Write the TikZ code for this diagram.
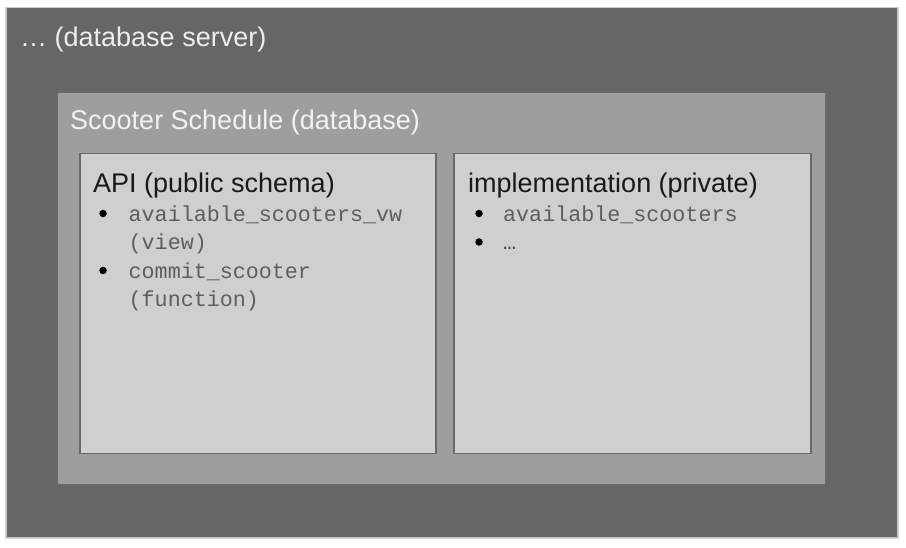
\documentclass[tikz,border=0pt]{standalone}
\usepackage{fontspec}
\setmainfont{Liberation Sans}
\setmonofont{Liberation Mono}
\usepackage{xcolor}
\usepackage{tikz}
\usetikzlibrary{positioning, calc}

\definecolor{serverfill}{HTML}{666666}
\definecolor{dbfill}{HTML}{9E9E9E}
\definecolor{schemafill}{HTML}{CFCFCF}
\definecolor{edgegray}{HTML}{6A6A6A}
\definecolor{itemgray}{HTML}{5E5E5E}

\begin{document}
\begin{tikzpicture}[x=1pt, y=-1pt,
        title/.style={anchor=base west, inner sep=0pt, font=\fontsize{27}{32}\selectfont},
        item/.style={anchor=base west, inner sep=0pt, text=itemgray, font=\ttfamily\fontsize{21.7}{28}\selectfont},
        dot/.style={circle, fill=black, inner sep=0pt, minimum size=7.5pt}]
        \useasboundingbox (0,0) rectangle (906,548);

        % nested boxes
        \filldraw[fill=serverfill, draw=black!20, line width=1.2pt] (6,7.5) rectangle (898,538);
        \filldraw[fill=dbfill, draw=edgegray, line width=1pt] (57,93) rectangle (825.5,484);
        \filldraw[fill=schemafill, draw=edgegray, line width=1.4pt] (80,153.5) rectangle (436,453.5);
        \filldraw[fill=schemafill, draw=edgegray, line width=1.4pt] (454,153.5) rectangle (811,453.5);

        % headings
        \node[title, text=black!7] (server) at (20,47) {… (database server)};
        \node[title, text=black!5] (db) at (70,130) {Scooter Schedule (database)};
        \node[title, text=black!90] (api) at (93,193) {API (public schema)};
        \node[title, text=black!90] (impl) at (468,193) {implementation (private)};

        % public schema
        \node[dot] (apidot1) at (103,213.5) {};
        \node[item] (vw) at (128.5,222) {available\_scooters\_vw};
        \node[item] (vwkind) at (128.5,250) {(view)};
        \node[dot] (apidot2) at (103,270.5) {};
        \node[item] (fn) at (128.5,279) {commit\_scooter};
        \node[item] (fnkind) at (128.5,307) {(function)};

        % private schema
        \node[dot] (impldot1) at (479,213.5) {};
        \node[item] (tbl) at (503,222) {available\_scooters};
        \node[dot] (impldot2) at (479,242) {};
        \node[item, text=black!75] (more) at (503,250) {…};

    \end{tikzpicture}
\end{document}
